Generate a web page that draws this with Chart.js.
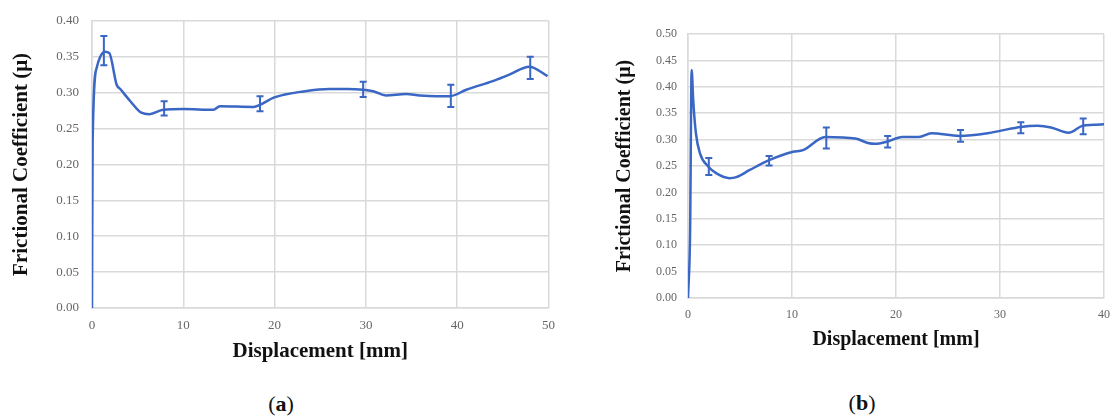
<!DOCTYPE html>
<html>
<head>
<meta charset="utf-8">
<script src="https://cdn.jsdelivr.net/npm/chart.js@4"></script>
<style>
    body { margin: 0; background: #fff; width: 1120px; height: 420px; position: relative; overflow: hidden; }
    .box { position: absolute; }
    .cap { position: absolute; font-family: "Liberation Serif", serif; font-size: 22px; color: #111; transform: translateX(-50%); }
    .cap b { font-weight: bold; }
</style>
</head>
<body>
<div class="box" id="boxA" style="left:0; top:0; width:565px; height:364px;"><canvas id="chartA"></canvas></div>
<div class="box" id="boxB" style="left:590px; top:0; width:530px; height:352px;"><canvas id="chartB"></canvas></div>
<div class="cap" style="left:281px; top:391px;">(<b>a</b>)</div>
<div class="cap" style="left:862px; top:390px;">(<b>b</b>)</div>
<script>
// (a) friction curve, displacement in mm
const dispA = [0, 0.07, 0.5, 0.9, 1.4, 1.9, 2.7, 3.1, 4.2, 5.4, 6.3, 7.8, 10, 13.3, 14, 17.7, 18.4, 19.9, 21, 22.8, 26, 28, 29.7, 30.8, 32.2, 34.4, 35.9, 37.7, 39.2, 41, 43.9, 45.7, 47.9, 49.9];
const muA = [0, 0.232, 0.334, 0.350, 0.357, 0.355, 0.311, 0.305, 0.288, 0.272, 0.270, 0.276, 0.277, 0.276, 0.281, 0.280, 0.283, 0.293, 0.297, 0.301, 0.305, 0.305, 0.304, 0.302, 0.296, 0.298, 0.296, 0.295, 0.295, 0.304, 0.316, 0.325, 0.336, 0.323];
const errXA = [1.3, 7.9, 18.4, 29.7, 39.3, 48];
const errLoA = [0.338, 0.268, 0.274, 0.294, 0.280, 0.319];
const errHiA = [0.379, 0.288, 0.295, 0.315, 0.311, 0.350];

// (b)
const dispB = [0, 0.2, 0.35, 0.5, 0.76, 1.15, 1.94, 2.74, 4.0, 4.65, 5.9, 7.8, 10.1, 11.05, 13.2, 16.1, 17.4, 18.0, 19.1, 20.6, 22.2, 23.4, 26.1, 28.8, 30.1, 32.0, 33.6, 34.9, 36.6, 37.9, 39.0, 40];
const muB = [0, 0.123, 0.432, 0.375, 0.312, 0.274, 0.249, 0.236, 0.227, 0.229, 0.242, 0.261, 0.277, 0.280, 0.305, 0.302, 0.293, 0.292, 0.296, 0.305, 0.305, 0.312, 0.307, 0.312, 0.317, 0.324, 0.326, 0.323, 0.313, 0.326, 0.328, 0.329];
const errXB = [2.0, 7.8, 13.3, 19.2, 26.2, 32.0, 38.0];
const errLoB = [0.233, 0.251, 0.283, 0.285, 0.296, 0.312, 0.310];
const errHiB = [0.265, 0.269, 0.323, 0.307, 0.318, 0.333, 0.340];

const xTicksA = [0, 10, 20, 30, 40, 50];
const xTicksB = [0, 10, 20, 30, 40];

const lineBlue = '#3a66c4';
const gridGray = '#d9d9d9';
const serif = '"Liberation Serif", "Times New Roman", serif';

const errorBarPlugin = {
    id: 'errorBars',
    afterDatasetsDraw(chart, args, opts) {
        const ctx = chart.ctx;
        const xs = chart.scales.x, ys = chart.scales.y;
        ctx.save();
        ctx.strokeStyle = lineBlue;
        ctx.lineWidth = 2;
        opts.x.forEach((xv, i) => {
            const px = xs.getPixelForValue(xv);
            const top = ys.getPixelForValue(opts.hi[i]);
            const bot = ys.getPixelForValue(opts.lo[i]);
            ctx.beginPath();
            ctx.moveTo(px, top); ctx.lineTo(px, bot);
            ctx.moveTo(px - 3.5, top); ctx.lineTo(px + 3.5, top);
            ctx.moveTo(px - 3.5, bot); ctx.lineTo(px + 3.5, bot);
            ctx.stroke();
        });
        ctx.restore();
    }
};

function makeChart(id, xs, ys, cfg) {
    const ctx = document.getElementById(id).getContext('2d');
    return new Chart(ctx, {
        type: 'line',
        data: {
            datasets: [{
                data: xs.map((x, i) => ({ x: x, y: ys[i] })),
                borderColor: lineBlue,
                borderWidth: 2.5,
                pointRadius: 0,
                cubicInterpolationMode: 'monotone',
                fill: false
            }]
        },
        options: {
            responsive: true,
            maintainAspectRatio: false,
            animation: false,
            layout: { padding: cfg.padding },
            plugins: {
                legend: { display: false },
                tooltip: { enabled: false },
                errorBars: cfg.err
            },
            scales: {
                x: {
                    type: 'linear',
                    min: 0,
                    max: cfg.xMax,
                    afterBuildTicks: axis => { axis.ticks = cfg.xTicks.map(v => ({ value: v })); },
                    afterFit: axis => { axis.height = cfg.xHeight; },
                    grid: { color: gridGray, lineWidth: 1.5, drawTicks: false },
                    border: { color: gridGray, width: 1.5 },
                    ticks: {
                        padding: cfg.tickPadX,
                        color: '#666666',
                        font: { family: serif, size: cfg.tickSize },
                        maxRotation: 0
                    },
                    title: {
                        display: true,
                        text: 'Displacement [mm]',
                        color: '#111',
                        padding: 0,
                        font: { family: serif, size: cfg.titleSize, weight: 'bold' }
                    }
                },
                y: {
                    min: 0,
                    max: cfg.yMax,
                    afterFit: axis => { axis.width = cfg.yWidth; },
                    grid: { color: gridGray, lineWidth: 1.5, drawTicks: false },
                    border: { color: gridGray, width: 1.5 },
                    ticks: {
                        stepSize: 0.05,
                        padding: cfg.tickPadY,
                        color: '#666666',
                        font: { family: serif, size: cfg.tickSize },
                        callback: v => v.toFixed(2)
                    },
                    title: {
                        display: true,
                        text: 'Frictional Coefficient (μ)',
                        color: '#111',
                        padding: 0,
                        font: { family: serif, size: cfg.titleSize, weight: 'bold' }
                    }
                }
            }
        },
        plugins: [errorBarPlugin]
    });
}

makeChart('chartA', dispA, muA, {
    padding: { left: 9, top: 19, right: 16, bottom: 0 },
    xMax: 50, yMax: 0.40, xTicks: xTicksA,
    xHeight: 56, yWidth: 83,
    tickPadX: 10, tickPadY: 13, tickSize: 13, titleSize: 21,
    err: { x: errXA, lo: errLoA, hi: errHiA }
});

makeChart('chartB', dispB, muB, {
    padding: { left: 23, top: 34, right: 13, bottom: 0 },
    xMax: 40, yMax: 0.50, xTicks: xTicksB,
    xHeight: 54, yWidth: 75,
    tickPadX: 10, tickPadY: 11, tickSize: 12, titleSize: 20,
    err: { x: errXB, lo: errLoB, hi: errHiB }
});
</script>
</body>
</html>
